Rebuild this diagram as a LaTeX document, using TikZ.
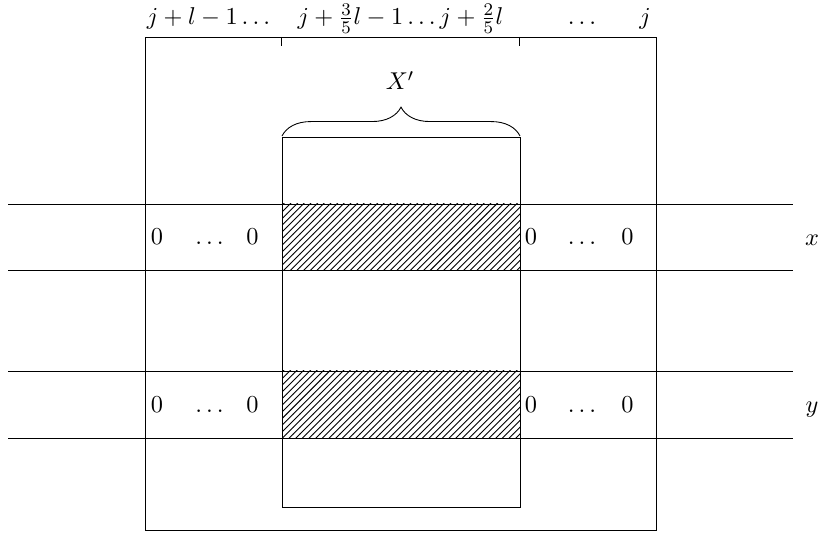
\documentclass[tikz,border=0pt]{standalone}
\usetikzlibrary{patterns,decorations.pathreplacing}
\begin{document}
\begin{tikzpicture}[scale=0.1582, every node/.style={font=\fontsize{11}{13}\selectfont, anchor=base, inner sep=0pt}]
  \useasboundingbox (0,0) rectangle (82.3,53.4);

  % Outer frame and ticks
  \draw (14.5,0.4) rectangle (65.6,49.7);          % frame
  \draw (28.1,49.7) -- (28.1,48.8);                % left tick
  \draw (51.9,49.7) -- (51.9,48.8);                % right tick

  % Hatched rows
  \fill[pattern=north east lines] (28.2,26.4) rectangle (52.0,33.0); % x row
  \fill[pattern=north east lines] (28.2,9.6) rectangle (52.0,16.3);  % y row

  % Inner box X'
  \draw (28.2,2.7) rectangle (52.0,39.7);

  % Horizontal lines
  \draw (0.8,33.0) -- (79.3,33.0);
  \draw (0.8,26.4) -- (79.3,26.4);
  \draw (0.8,16.3) -- (79.3,16.3);
  \draw (0.8,9.6) -- (79.3,9.6);

  % Brace
  \draw[decorate, decoration={brace, amplitude=13pt}] (28.2,39.8) -- (52.0,39.8);
  \node (xp) at (40.0,44.4) {$X'$};

  % Labels
  \node (ta) at (20.85,50.9) {$j+l-1\ldots$};
  \node (tb) at (40.05,50.9) {$j+\frac{3}{5}l-1\ldots j+\frac{2}{5}l$};
  \node (tc) at (58.2,50.9) {$\ldots$};
  \node (td) at (64.5,50.9) {$j$};

  \node (xa) at (15.7,28.9) {$0$};
  \node (xb) at (20.95,28.9) {$\ldots$};
  \node (xc) at (25.25,28.9) {$0$};
  \node (xd) at (53.1,28.9) {$0$};
  \node (xe) at (58.2,28.9) {$\ldots$};
  \node (xf) at (62.75,28.9) {$0$};
  \node (x) at (81.2,28.8) {$x$};

  \node (ya) at (15.7,12.1) {$0$};
  \node (yb) at (20.95,12.1) {$\ldots$};
  \node (yc) at (25.25,12.1) {$0$};
  \node (yd) at (53.1,12.1) {$0$};
  \node (ye) at (58.2,12.1) {$\ldots$};
  \node (yf) at (62.75,12.1) {$0$};
  \node (y) at (81.2,12.1) {$y$};
\end{tikzpicture}
\end{document}
